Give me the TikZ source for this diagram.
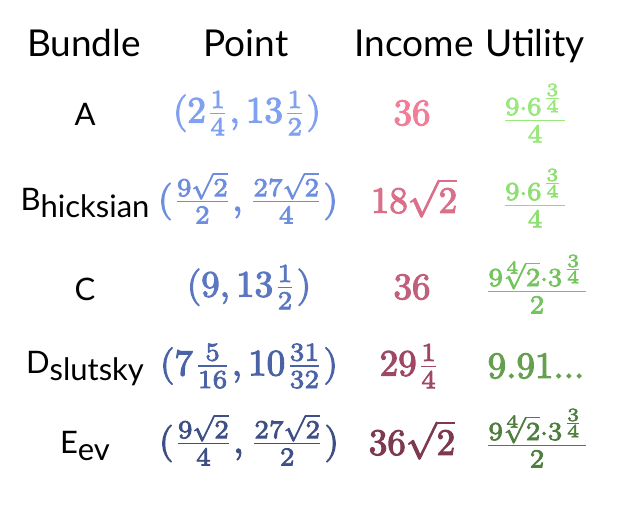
\documentclass[tikz,border=0pt]{standalone}
\usepackage{amsmath}
\usepackage{fontspec}
\usepackage{unicode-math}
\setmathfont{Latin Modern Math}[FakeBold=3]
\newfontfamily\hdrfont{Lato}
\usepackage{tikz}
\usetikzlibrary{calc}

\definecolor{ptA}{HTML}{80A0F2}
\definecolor{ptB}{HTML}{6D8DDF}
\definecolor{ptC}{HTML}{5B77C2}
\definecolor{ptD}{HTML}{4A63A6}
\definecolor{ptE}{HTML}{3E4F85}
\definecolor{inA}{HTML}{F27D97}
\definecolor{inB}{HTML}{DB6E89}
\definecolor{inC}{HTML}{C25F7A}
\definecolor{inD}{HTML}{9E4866}
\definecolor{inE}{HTML}{7D3A4E}
\definecolor{utA}{HTML}{98E87C}
\definecolor{utB}{HTML}{8EDF72}
\definecolor{utC}{HTML}{74C45E}
\definecolor{utD}{HTML}{64A04E}
\definecolor{utE}{HTML}{4E7F3E}

% formulas are set at 10pt and blown up
\newcommand\bigmath[1]{\scalebox{3.7}{$#1$}}

\begin{document}
\begin{tikzpicture}[x=1pt,y=-1pt,
  hdr/.style={font=\hdrfont\fontsize{37}{44}\selectfont,anchor=base,inner sep=0pt},
  lbl/.style={font=\hdrfont\fontsize{31}{38}\selectfont,anchor=base,inner sep=0pt},
  val/.style={font=\fontsize{10}{12}\selectfont,inner sep=0pt}]
\useasboundingbox (0,0) rectangle (628,510);

% header row
\node[hdr] (hBundle)  at (84,57)  {Bundle};
\node[hdr] (hPoint)   at (246,57) {Point};
\node[hdr] (hIncome)  at (414,57) {Income};
\node[hdr] (hUtility) at (535,57) {Utility};

% bundle names
\node[lbl] (lA) at (85,126) {A};
\node[lbl] (lB) at (85,211) {B\raisebox{-7pt}{hicksian}};
\node[lbl] (lC) at (85,300) {C};
\node[lbl] (lD) at (85,373) {D\raisebox{-7pt}{slutsky}};
\node[lbl] (lE) at (85,453) {E\raisebox{-7pt}{ev}};

% points
\node[val,text=ptA] (pA) at (247,113) {\bigmath{(2\frac{1}{4}, 13\frac{1}{2})}};
\node[val,text=ptB] (pB) at (248,198) {\bigmath{(\frac{9\sqrt{2}}{2}, \frac{27\sqrt{2}}{4})}};
\node[val,text=ptC] (pC) at (249,287) {\bigmath{(9, 13\frac{1}{2})}};
\node[val,text=ptD] (pD) at (249,366) {\bigmath{(7\frac{5}{16}, 10\frac{31}{32})}};
\node[val,text=ptE] (pE) at (249,440) {\bigmath{(\frac{9\sqrt{2}}{4}, \frac{27\sqrt{2}}{2})}};

% incomes
\node[val,text=inA] (iA) at (412,113) {\bigmath{36}};
\node[val,text=inB] (iB) at (414,198) {\bigmath{18\sqrt{2}}};
\node[val,text=inC] (iC) at (412,287) {\bigmath{36}};
\node[val,text=inD] (iD) at (410,366) {\bigmath{29\frac{1}{4}}};
\node[val,text=inE] (iE) at (412,440) {\bigmath{36\sqrt{2}}};

% utilities
\node[val,text=utA] (uA) at (535,113) {\bigmath{\frac{9\cdot 6^{\frac{3}{4}}}{4}}};
\node[val,text=utB] (uB) at (535,198) {\bigmath{\frac{9\cdot 6^{\frac{3}{4}}}{4}}};
\node[val,text=utC] (uC) at (537,284) {\bigmath{\frac{9\mkern-3mu\sqrt[4]{2}\cdot 3^{\frac{3}{4}}}{2}}};
\node[val,text=utD] (uD) at (536,366) {\bigmath{9.91...}};
\node[val,text=utE] (uE) at (537,438) {\bigmath{\frac{9\mkern-3mu\sqrt[4]{2}\cdot 3^{\frac{3}{4}}}{2}}};
\end{tikzpicture}
\end{document}
